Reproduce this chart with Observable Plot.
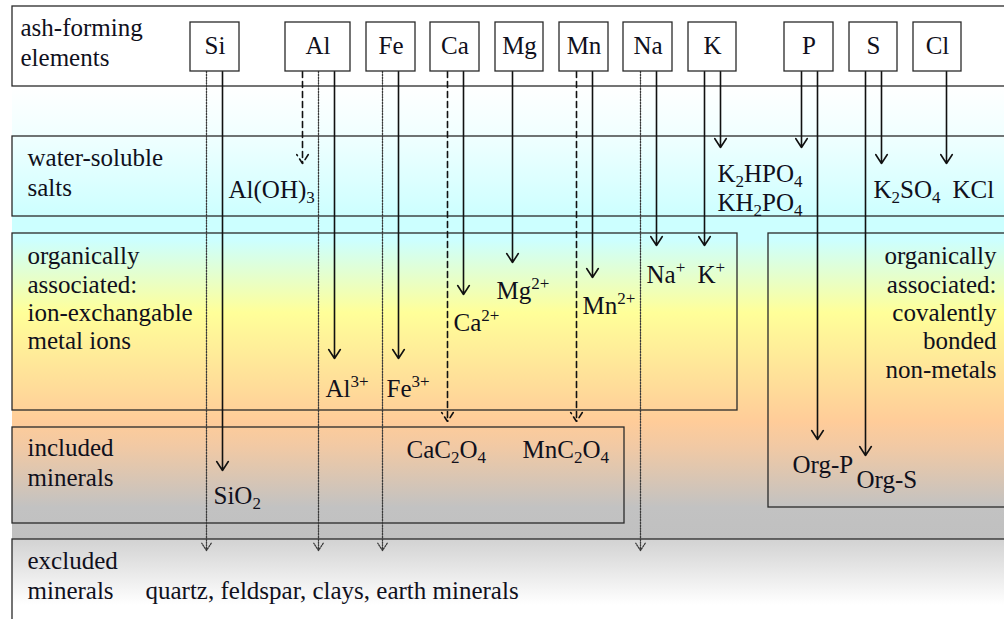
<!DOCTYPE html>
<html>
<head>
<meta charset="utf-8">
<script src="https://cdn.jsdelivr.net/npm/d3@7"></script>
<script src="https://cdn.jsdelivr.net/npm/@observablehq/plot@0.6"></script>
<style>
  html, body { margin: 0; padding: 0; background: #fff; overflow: hidden; }
  #chart svg text { font-family: "Liberation Serif", "Times New Roman", "DejaVu Serif", serif !important; }
</style>
</head>
<body>
<div id="chart"></div>
<script>
// ---------- content ----------
const elements = ["Si", "Al", "Fe", "Ca", "Mg", "Mn", "Na", "K", "P", "S", "Cl"];

// pathways: source element, line kind
const pathFrom = ["Si","Si","Al","Al","Al","Fe","Fe","Ca","Ca","Mg","Mn","Mn","Na","Na","K","K","P","P","S","S","Cl"];
const pathKind = ["dotted","solid","dashed","dotted","solid","dotted","solid","dashed","solid","solid","dashed","solid","dotted","solid","solid","solid","solid","solid","solid","solid","solid"];

// band labels (left aligned) and right-aligned labels
const leftLabels = [
  "ash-forming", "elements",
  "water-soluble", "salts",
  "organically", "associated:", "ion-exchangable", "metal ions",
  "included", "minerals",
  "excluded", "minerals"
];
const rightLabels = ["organically", "associated:", "covalently", "bonded", "non-metals"];

// species (markup: _{..} subscript, ^{..} superscript)
const species = [
  "Al(OH)_{3}", "K_{2}HPO_{4}", "KH_{2}PO_{4}", "K_{2}SO_{4}", "KCl",
  "Ca^{2+}", "Mg^{2+}", "Mn^{2+}", "Na^{+}", "K^{+}", "Al^{3+}", "Fe^{3+}",
  "CaC_{2}O_{4}", "MnC_{2}O_{4}", "SiO_{2}", "Org-P", "Org-S",
  "quartz, feldspar, clays, earth minerals"
];

// ---------- layout (pixel positions) ----------
const W = 1004, H = 619;
const elementLeft  = [190, 285, 366, 430, 495, 559, 623, 688, 784, 849, 913];
const elementRight = [239, 350, 415, 479, 543, 608, 672, 736, 833, 897, 961];
const elementTop = 22, elementBottom = 71, elementBaseline = 53;

const pathX   = [206,222,302,318,334,382,398,447,463,512,576,592,640,656,704,720,801,817,865,881,946];
const pathEnd = [550,470,163,550,358,550,358,421,294,262,421,277,550,245,245,147,147,439,455,163,163];

const leftLabelX = [20,20, 27,27, 27,27,27,27, 27,27, 27,27];
const leftLabelY = [35,65, 165,195, 263,292,320,348, 455,485, 568,598];
const rightLabelX = [996, 996, 996, 996, 996];
const rightLabelY = [263, 292, 320, 348, 377];

const speciesX = [228, 717, 717, 873, 952, 453, 496, 582, 646, 697, 325, 386, 406, 522, 213, 792, 856, 145];
const speciesY = [197, 181, 210, 197, 197, 330, 298, 313, 282, 282, 396, 396, 457, 457, 503, 472, 487, 598];

// frames: [x1, x2, y1, y2]
const frameX1 = [12, 12, 12, 768, 12, 12];
const frameX2 = [1012, 1012, 737, 1012, 624, 1012];
const frameY1 = [6, 136, 233, 233, 427, 539];
const frameY2 = [86, 216, 410, 507, 523, 640];
const frameFill = ["white", "none", "none", "none", "none", "none"];

// ---------- build tables ----------
const frames = frameX1.map((x1, i) => ({x1, x2: frameX2[i], y1: frameY1[i], y2: frameY2[i], fill: frameFill[i]}));
const boxes = elements.map((name, i) => ({name, x1: elementLeft[i], x2: elementRight[i], y1: elementTop, y2: elementBottom, xc: (elementLeft[i] + elementRight[i]) / 2, yb: elementBaseline}));
const paths = pathFrom.map((from, i) => ({from, kind: pathKind[i], x: pathX[i], y1: elementBottom, y2: pathEnd[i]}));
const lefts = leftLabels.map((text, i) => ({text, x: leftLabelX[i], y: leftLabelY[i]}));
const rights = rightLabels.map((text, i) => ({text, x: rightLabelX[i], y: rightLabelY[i]}));
const specs = species.map((text, i) => ({text, x: speciesX[i], y: speciesY[i]}));

const FONT = "Liberation Serif";
const FS = 25;
const INK = "#10101c";

const textOpts = {x: "x", y: "y", text: "text", lineAnchor: "bottom", fontFamily: FONT, fontSize: FS, fill: INK};

const arrowBase = {x1: "x", x2: "x", y1: "y1", y2: "y2", headLength: 10, headAngle: 66};

const svg = Plot.plot({
  width: W,
  height: H,
  margin: 0,
  x: {domain: [0, W], range: [0, W], axis: null},
  y: {domain: [0, H], range: [0, H], axis: null},
  marks: [
    // backgrounds
    Plot.rect([{x1: 12, x2: 1012, y1: 86, y2: 539}], {x1: "x1", x2: "x2", y1: "y1", y2: "y2", fill: "url(#bgMain)"}),
    Plot.rect([{x1: 12, x2: 1012, y1: 539, y2: 640}], {x1: "x1", x2: "x2", y1: "y1", y2: "y2", fill: "url(#bgExcl)"}),
    // frames
    Plot.rect(frames.filter(d => d.fill === "white"), {x1: "x1", x2: "x2", y1: "y1", y2: "y2", fill: "white", stroke: "#2a2a2a", strokeWidth: 1.3}),
    Plot.rect(frames.filter(d => d.fill === "none"), {x1: "x1", x2: "x2", y1: "y1", y2: "y2", fill: "none", stroke: "#2a2a2a", strokeWidth: 1.3}),
    // pathways
    Plot.arrow(paths.filter(d => d.kind === "dotted"), {...arrowBase, stroke: "#3a3a3a", strokeWidth: 1.3, strokeDasharray: "1.4,1.4"}),
    Plot.arrow(paths.filter(d => d.kind === "dashed"), {...arrowBase, stroke: "#111", strokeWidth: 1.6, strokeDasharray: "6,4"}),
    Plot.arrow(paths.filter(d => d.kind === "solid"), {...arrowBase, stroke: "#111", strokeWidth: 1.6}),
    // element boxes
    Plot.rect(boxes, {x1: "x1", x2: "x2", y1: "y1", y2: "y2", fill: "white", stroke: "#2a2a2a", strokeWidth: 1.3}),
    Plot.text(boxes, {x: "xc", y: "yb", text: "name", lineAnchor: "bottom", textAnchor: "middle", fontFamily: FONT, fontSize: FS, fill: INK}),
    // labels
    Plot.text(lefts, {...textOpts, textAnchor: "start"}),
    Plot.text(rights, {...textOpts, textAnchor: "end"}),
    Plot.text(specs, {...textOpts, textAnchor: "start"})
  ]
});

// gradients
const NS = "http://www.w3.org/2000/svg";
const defs = document.createElementNS(NS, "defs");
defs.innerHTML = `
  <linearGradient id="bgMain" x1="0" y1="0" x2="0" y2="1">
    <stop offset="0" stop-color="#ffffff"/>
    <stop offset="0.11" stop-color="#f0ffff"/>
    <stop offset="0.29" stop-color="#ccffff"/>
    <stop offset="0.34" stop-color="#ccffff"/>
    <stop offset="0.50" stop-color="#ffff99"/>
    <stop offset="0.74" stop-color="#ffcc99"/>
    <stop offset="0.80" stop-color="#f0c9a5"/>
    <stop offset="0.93" stop-color="#c2c2c2"/>
    <stop offset="1" stop-color="#c0c0c0"/>
  </linearGradient>
  <linearGradient id="bgExcl" x1="0" y1="0" x2="0" y2="1">
    <stop offset="0" stop-color="#d2d2d2"/>
    <stop offset="0.65" stop-color="#ffffff"/>
    <stop offset="1" stop-color="#ffffff"/>
  </linearGradient>`;
svg.insertBefore(defs, svg.firstChild);

// sub/superscript markup -> tspans
const scriptSize = FS * 0.68;
const subShift = 5, supShift = 10;
svg.querySelectorAll("text").forEach(t => {
  t.style.fontFamily = "'Liberation Serif', 'Times New Roman', serif";
  const s = t.textContent;
  if (!/[_^]\{/.test(s)) return;
  const parts = s.split(/([_^]\{[^}]*\})/).filter(p => p.length);
  t.textContent = "";
  let shift = 0;
  for (const p of parts) {
    const ts = document.createElementNS(NS, "tspan");
    let target = 0, txt = p;
    if (/^[_^]\{/.test(p)) {
      target = p[0] === "_" ? subShift : -supShift;
      txt = p.slice(2, -1);
      ts.setAttribute("font-size", scriptSize);
    }
    if (target - shift !== 0) ts.setAttribute("dy", target - shift);
    shift = target;
    ts.textContent = txt;
    t.appendChild(ts);
  }
});

document.getElementById("chart").appendChild(svg);
</script>
</body>
</html>
